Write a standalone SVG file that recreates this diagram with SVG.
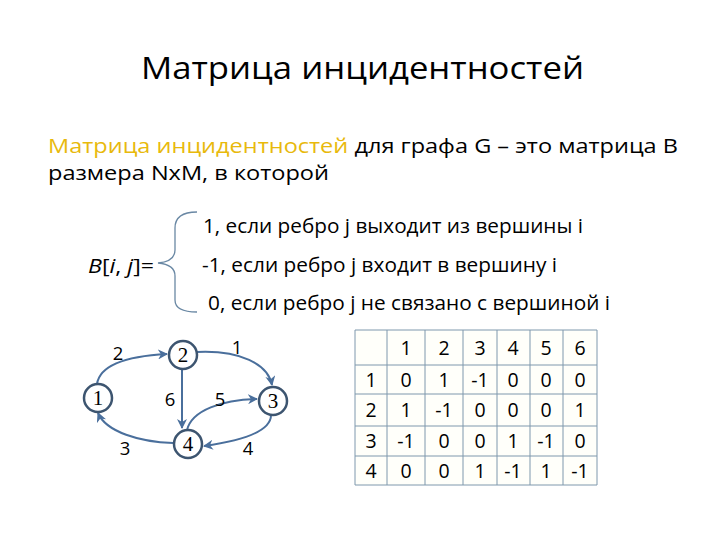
<svg xmlns="http://www.w3.org/2000/svg" width="720" height="540" viewBox="0 0 720 540">
<defs>
<marker id="arr" viewBox="0 0 10 10" refX="9" refY="5" markerWidth="5" markerHeight="5" orient="auto" markerUnits="strokeWidth">
<path d="M0,0 L10,5 L0,10 L3,5 Z" fill="#4a6f9c"/>
</marker>
<style>
.t{font-family:"Open Sans","Liberation Sans",sans-serif;fill:#000}
.body{font-size:20.5px}
.lead{font-size:19.5px}
.node circle{fill:#fff;stroke:#3d5570;stroke-width:2.5}
.node text{font-family:"Liberation Serif","DejaVu Serif",serif;font-size:21px;text-anchor:middle;fill:#000}
.edge{fill:none;stroke:#4a6f9c;stroke-width:2;marker-end:url(#arr)}
.el{font-family:"Open Sans","Liberation Sans",sans-serif;font-size:18.5px;text-anchor:middle;fill:#000}
.grid line{stroke:#7f98ad;stroke-width:1}
.cell{font-family:"Open Sans","Liberation Sans",sans-serif;font-size:19.5px;text-anchor:middle;fill:#000}
</style>
</defs>
<rect width="720" height="540" fill="#fff"/>

<text class="t" x="141" y="79" font-size="31" textLength="443" lengthAdjust="spacingAndGlyphs">Матрица инцидентностей</text>

<text class="t lead" x="48" y="153" textLength="630" lengthAdjust="spacingAndGlyphs"><tspan fill="#e8b90c">Матрица инцидентностей</tspan> для графа G – это матрица B</text>
<text class="t lead" x="48" y="180" textLength="281" lengthAdjust="spacingAndGlyphs">размера NxM, в которой</text>

<g id="formula">
<text class="t body" x="88" y="273" textLength="66" lengthAdjust="spacingAndGlyphs"><tspan font-style="italic">B</tspan>[<tspan font-style="italic">i</tspan>, <tspan font-style="italic">j</tspan>]=</text>
<path d="M197,212 C182,212 175,217 175,228 L175,250 C175,258 169,262 158,263 C169,264 175,268 175,276 L175,300 C175,308 182,312 197,312" fill="none" stroke="#6a88a4" stroke-width="1.3"/>
<text class="t body" x="203" y="233" textLength="380" lengthAdjust="spacingAndGlyphs">1, если ребро j выходит из вершины i</text>
<text class="t body" x="202" y="272" textLength="355" lengthAdjust="spacingAndGlyphs">-1, если ребро j входит в вершину i</text>
<text class="t body" x="208" y="310" textLength="402" lengthAdjust="spacingAndGlyphs">0, если ребро j не связано с вершиной i</text>
</g>

<g id="connectors">
<path class="edge" d="M97,384 C100,364 130,356 167,354"/>
<path class="edge" d="M197,352 C240,350 268,364 272,385"/>
<path class="edge" d="M182,369 L182,428"/>
<path class="edge" d="M187,430 C192,410 222,400 257,399"/>
<path class="edge" d="M271,415 C271,432 240,441 204,446"/>
<path class="edge" d="M173,443 C140,442 106,432 98,413"/>
<text class="el" x="118" y="360">2</text>
<text class="el" x="237" y="354">1</text>
<text class="el" x="170" y="406">6</text>
<text class="el" x="220" y="406">5</text>
<text class="el" x="125" y="455">3</text>
<text class="el" x="248" y="455">4</text>
</g>

<g id="node1" class="node"><circle cx="98" cy="398" r="14"/><text x="98" y="405">1</text></g>
<g id="node2" class="node"><circle cx="183" cy="355" r="14"/><text x="183" y="362">2</text></g>
<g id="node3" class="node"><circle cx="273" cy="401" r="14"/><text x="273" y="408">3</text></g>
<g id="node4" class="node"><circle cx="188" cy="444" r="14"/><text x="188" y="451">4</text></g>

<g id="table">
<rect x="355" y="330" width="242" height="155" fill="#fffffa"/>
<g class="grid">
<line x1="355" y1="330" x2="597" y2="330"/>
<line x1="355" y1="365" x2="597" y2="365"/>
<line x1="355" y1="394" x2="597" y2="394"/>
<line x1="355" y1="426" x2="597" y2="426"/>
<line x1="355" y1="456" x2="597" y2="456"/>
<line x1="355" y1="485" x2="597" y2="485"/>
<line x1="355" y1="330" x2="355" y2="485"/>
<line x1="387" y1="330" x2="387" y2="485"/>
<line x1="425" y1="330" x2="425" y2="485"/>
<line x1="463" y1="330" x2="463" y2="485"/>
<line x1="497" y1="330" x2="497" y2="485"/>
<line x1="530" y1="330" x2="530" y2="485"/>
<line x1="563" y1="330" x2="563" y2="485"/>
<line x1="597" y1="330" x2="597" y2="485"/>
</g>
<g class="cell">
<text x="406" y="355">1</text><text x="444" y="355">2</text><text x="480" y="355">3</text><text x="513" y="355">4</text><text x="546" y="355">5</text><text x="580" y="355">6</text>
<text x="371" y="387">1</text><text x="406" y="387">0</text><text x="444" y="387">1</text><text x="480" y="387">-1</text><text x="513" y="387">0</text><text x="546" y="387">0</text><text x="580" y="387">0</text>
<text x="371" y="417">2</text><text x="406" y="417">1</text><text x="444" y="417">-1</text><text x="480" y="417">0</text><text x="513" y="417">0</text><text x="546" y="417">0</text><text x="580" y="417">1</text>
<text x="371" y="448">3</text><text x="406" y="448">-1</text><text x="444" y="448">0</text><text x="480" y="448">0</text><text x="513" y="448">1</text><text x="546" y="448">-1</text><text x="580" y="448">0</text>
<text x="371" y="478">4</text><text x="406" y="478">0</text><text x="444" y="478">0</text><text x="480" y="478">1</text><text x="513" y="478">-1</text><text x="546" y="478">1</text><text x="580" y="478">-1</text>
</g>
</g>
</svg>
